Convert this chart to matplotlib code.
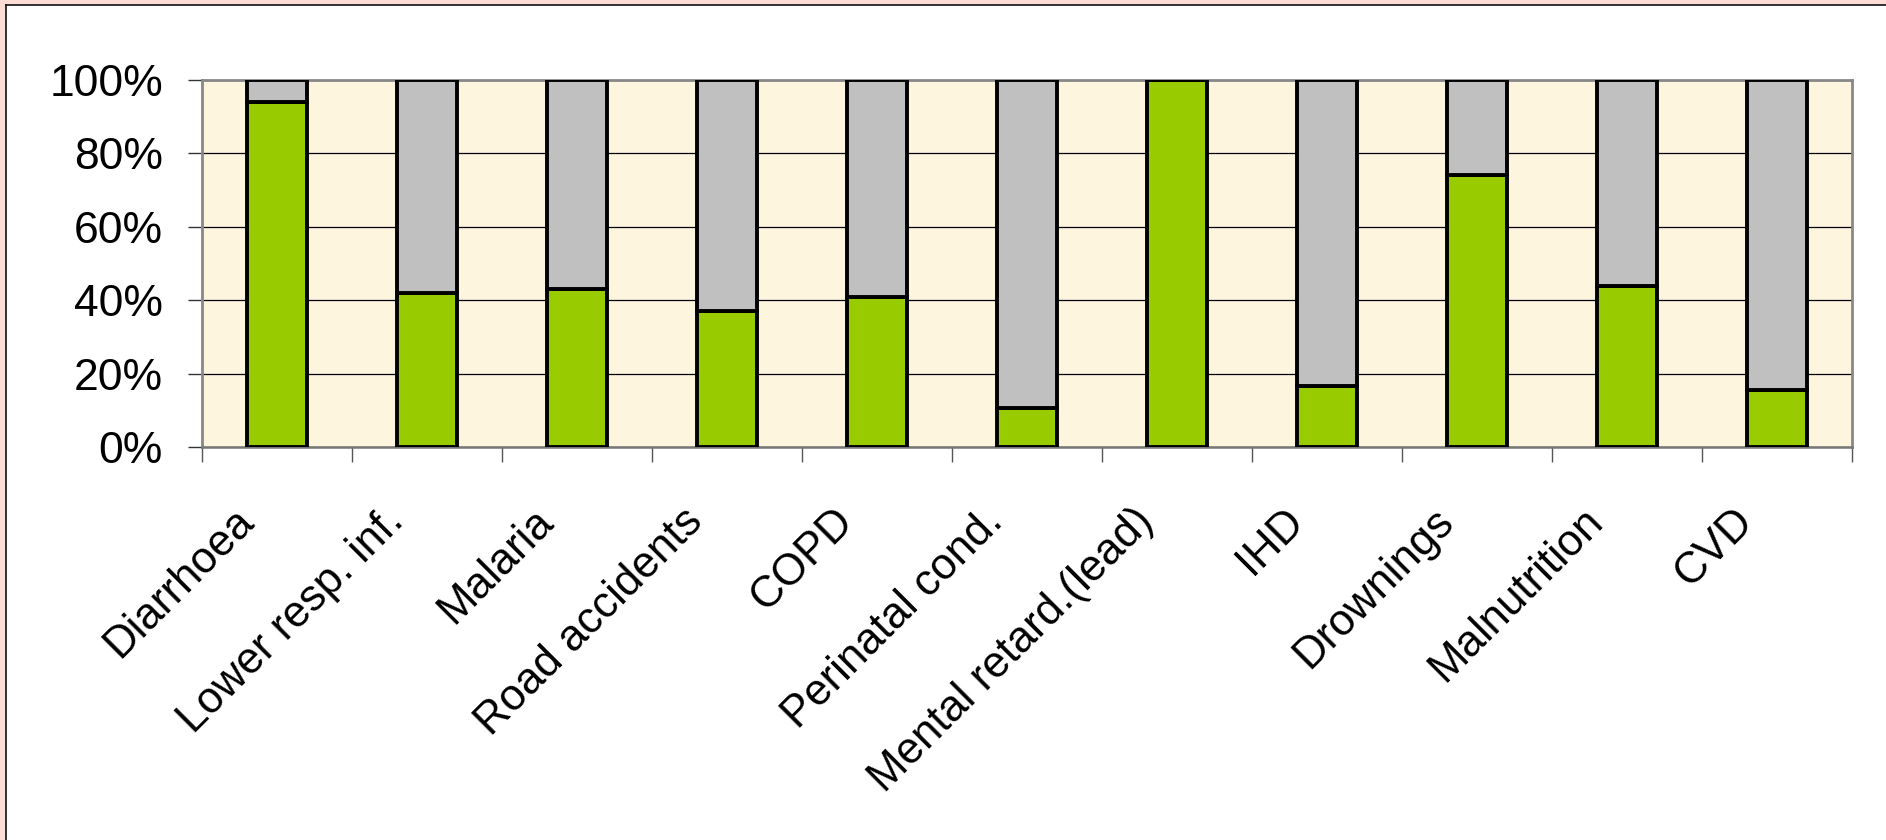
import matplotlib
matplotlib.use("Agg")
import matplotlib.pyplot as plt
from matplotlib.patches import Rectangle
from matplotlib.lines import Line2D
from matplotlib.transforms import ScaledTranslation
import numpy as np

categories = ["Diarrhoea", "Lower resp. inf.", "Malaria", "Road accidents", "COPD",
              "Perinatal cond.", "Mental retard.(lead)", "IHD", "Drownings",
              "Malnutrition", "CVD"]
# share attributable (green) and remainder (grey), percent
attributable = [94, 42, 43, 37, 41, 10.5, 100, 16.5, 74, 44, 15.5]
remainder = [100 - v for v in attributable]
y_ticks = [0, 20, 40, 60, 80, 100]
y_tick_labels = ["0%", "20%", "40%", "60%", "80%", "100%"]

plt.rcParams["font.family"] = ["Liberation Sans", "DejaVu Sans"]

W, H, DPI = 1886, 840, 100
fig = plt.figure(figsize=(W / DPI, H / DPI), dpi=DPI)
fig.patch.set_facecolor("#FCDCD5")

# white slide panel with a thin dark border on the top and left
panel = Rectangle((6 / W, 0), 1 - 6 / W, 1 - 5 / H, transform=fig.transFigure,
                  facecolor="white", edgecolor="none", zorder=-10)
fig.patches.append(panel)
fig.lines.append(Line2D([6 / W, 6 / W], [0, 1 - 5 / H], transform=fig.transFigure,
                        color="#111111", lw=1.2, zorder=-5))
fig.lines.append(Line2D([6 / W, 1], [1 - 5 / H, 1 - 5 / H], transform=fig.transFigure,
                        color="#111111", lw=1.2, zorder=-5))

left, right, top, bottom = 202, 1852, 80, 447
ax = fig.add_axes([left / W, 1 - bottom / H, (right - left) / W, (bottom - top) / H])
ax.set_facecolor("#FEF5DF")

x = np.arange(len(categories))
ax.bar(x, attributable, width=0.4, color="#99CC00", edgecolor="black", linewidth=2.8, zorder=3)
ax.bar(x, remainder, width=0.4, bottom=attributable, color="#C0C0C0", edgecolor="black",
       linewidth=2.8, zorder=3)

ax.set_xlim(-0.5, len(categories) - 0.5)
ax.set_ylim(0, 100)
ax.set_yticks(y_ticks)
ax.set_yticklabels(y_tick_labels, fontsize=32)
ax.tick_params(axis="y", length=10, width=1, color="#333333", pad=18, direction="out")
ax.yaxis.grid(True, color="black", linewidth=0.9, zorder=1)
ax.set_axisbelow(True)

ax.set_xticks([])
ax.set_xticks(np.arange(len(categories) + 1) - 0.5, minor=True)
ax.tick_params(axis="x", which="minor", length=11, width=1, color="#555555", direction="out")

for side in ["top", "right", "left"]:
    ax.spines[side].set_color("#888888")
    ax.spines[side].set_linewidth(2)
ax.spines["bottom"].set_color("#777777")
ax.spines["bottom"].set_linewidth(1.8)

# rotated category labels ending just left of each category centre
offset = ScaledTranslation(-22 / DPI, -76 / DPI, fig.dpi_scale_trans)
for xi, name in zip(x, categories):
    ax.text(xi, 0, name, transform=ax.get_xaxis_transform() + offset, fontsize=31.5,
            rotation=45, rotation_mode="anchor", ha="right", va="baseline")

fig.savefig("out.png", dpi=DPI)
